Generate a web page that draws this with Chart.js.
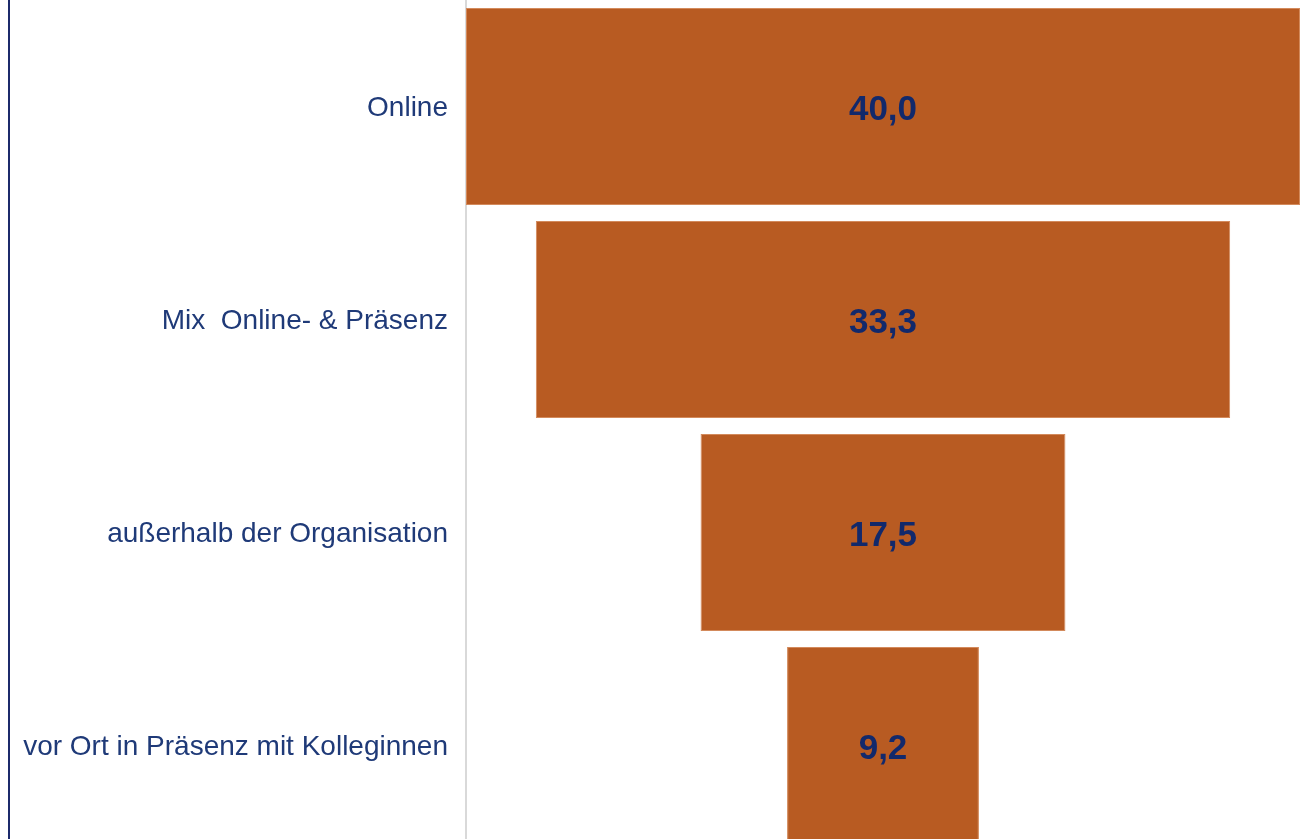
<!DOCTYPE html>
<html lang="de">
<head>
<meta charset="utf-8">
<title>Funnel</title>
<script src="https://cdn.jsdelivr.net/npm/chart.js@4"></script>
<style>
  html, body { margin: 0; padding: 0; background: #fff; overflow: hidden; }
  .frame { position: absolute; left: 8px; top: 0; width: 2px; height: 839px; background: #1c2a6b; }
  .wrap { position: absolute; left: 0; top: 0; width: 1306px; height: 852px; }
</style>
</head>
<body>
<div class="wrap"><canvas id="funnelChart"></canvas></div>
<div class="frame"></div>
<script>
const categories = ['Online', 'Mix  Online- & Präsenz', 'außerhalb der Organisation', 'vor Ort in Präsenz mit Kolleginnen'];
const values = [40.0, 33.3, 17.5, 9.2];

const fmt = v => v.toFixed(1).replace('.', ',');

// bars centred on zero -> funnel
const valueLabels = {
  id: 'valueLabels',
  afterDatasetsDraw(chart) {
    const ctx = chart.ctx;
    const meta = chart.getDatasetMeta(0);
    ctx.save();
    ctx.font = 'bold 35px "Liberation Sans", Arial, sans-serif';
    ctx.fillStyle = '#12296b';
    ctx.textAlign = 'center';
    ctx.textBaseline = 'middle';
    meta.data.forEach((bar, i) => {
      ctx.fillText(fmt(values[i]), (bar.x + bar.base) / 2, bar.y + 4);
    });
    ctx.restore();
  }
};

const ctx = document.getElementById('funnelChart');

new Chart(ctx, {
  type: 'bar',
  data: {
    labels: categories,
    datasets: [{
      data: values.map(v => [-v / 2, v / 2]),
      backgroundColor: '#b85b22',
      borderColor: '#d38a5c',
      borderWidth: 1,
      borderSkipped: false,
      categoryPercentage: 1,
      barPercentage: 0.926
    }]
  },
  options: {
    indexAxis: 'y',
    responsive: true,
    maintainAspectRatio: false,
    animation: false,
    layout: { padding: { left: 0, right: 6, top: 0, bottom: 0 } },
    plugins: { legend: { display: false }, tooltip: { enabled: false } },
    scales: {
      x: { display: false, min: -20, max: 20 },
      y: {
        afterFit: scale => {
          scale.width = 466;
          scale.paddingTop = 0;
          scale.paddingBottom = 0;
        },
        grid: { display: false, drawTicks: false },
        border: { display: true, color: '#d9d9d9', width: 2 },
        ticks: {
          padding: 18,
          labelOffset: 2,
          color: '#1f3a78',
          font: { family: '"Liberation Sans", Arial, sans-serif', size: 28 }
        }
      }
    }
  },
  plugins: [valueLabels]
});
</script>
</body>
</html>
